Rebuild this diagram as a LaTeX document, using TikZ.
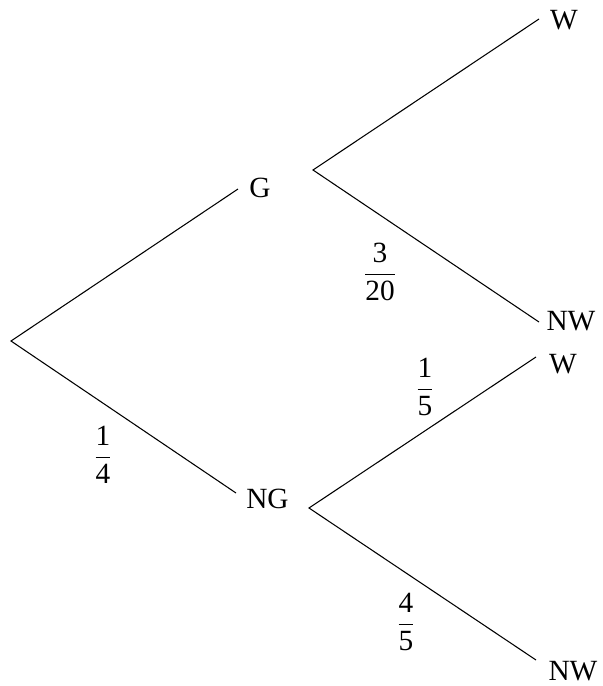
\documentclass[tikz,border=0pt]{standalone}
\usepackage{amsmath}
\usepackage[no-math]{fontspec}
\setmainfont{Liberation Serif}
\begin{document}
\begin{tikzpicture}[x=0.75pt,y=-0.75pt,
  lbl/.style={anchor=base,inner sep=0pt,font=\fontsize{22}{26}\selectfont},
  frac/.style={anchor=center,inner sep=0pt,font=\fontsize{22}{26}\selectfont},
  branch/.style={line width=0.8pt}]
\useasboundingbox (0,0) rectangle (603,686);
% branch points and line ends
\coordinate (root) at (11,341);
\coordinate (gend) at (238,189);
\coordinate (ngend) at (236,493);
\coordinate (groot) at (313,170);
\coordinate (gw) at (539,19);
\coordinate (gnw) at (539,322);
\coordinate (ngroot) at (309,508);
\coordinate (ngw) at (536,357);
\coordinate (ngnw) at (536,660);
% labels
\node[lbl] (G) at (260,197) {G};
\node[lbl] (NG) at (267.5,508) {NG};
\node[lbl] (W1) at (564,29) {W};
\node[lbl] (NW1) at (571,330) {NW};
\node[lbl] (W2) at (563,373) {W};
\node[lbl] (NW2) at (573,680) {NW};
% branches
\draw[branch] (gend) -- (root) -- (ngend);
\draw[branch] (gw) -- (groot) -- (gnw);
\draw[branch] (ngw) -- (ngroot) -- (ngnw);
% probabilities
\node[frac] (p14) at (103,455) {$\dfrac{\text{1}}{\text{4}}$};
\node[frac] (p320) at (380,272) {$\dfrac{\text{3}}{\text{20}}$};
\node[frac] (p15) at (425,387) {$\dfrac{\text{1}}{\text{5}}$};
\node[frac] (p45) at (406,622) {$\dfrac{\text{4}}{\text{5}}$};
\end{tikzpicture}
\end{document}
